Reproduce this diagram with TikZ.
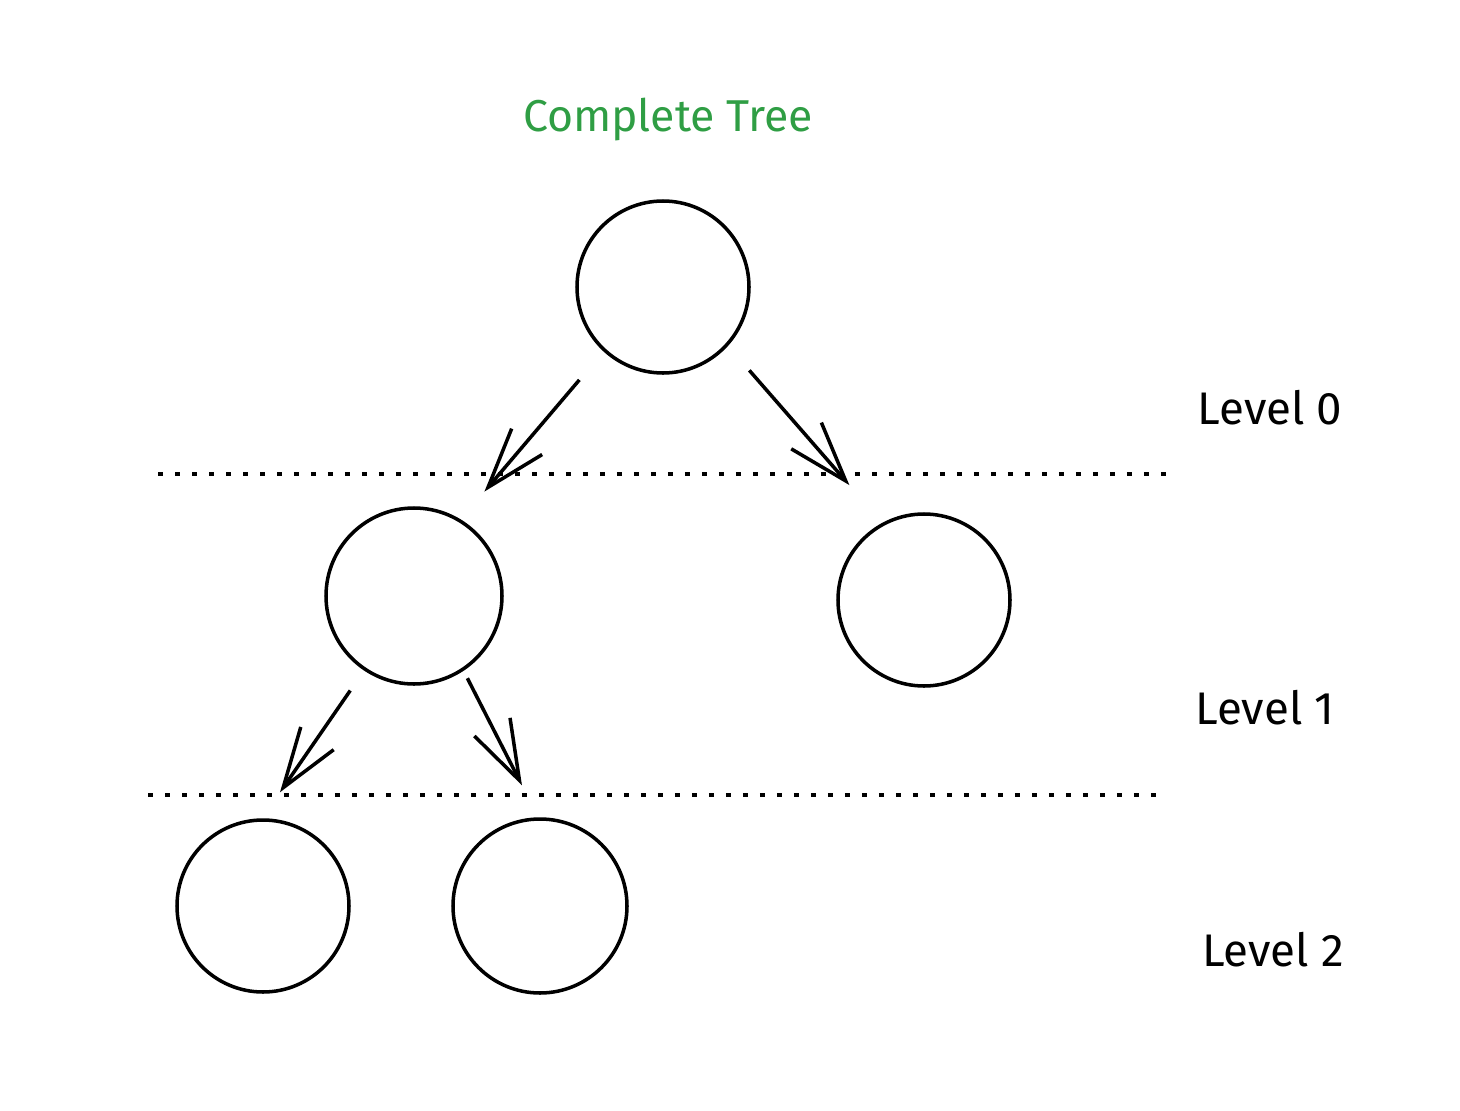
\documentclass[tikz,border=0pt]{standalone}
\usepackage{fontspec}
\setmainfont{Fira Sans}
\usetikzlibrary{calc,arrows.meta}
\definecolor{sketchgreen}{HTML}{2F9E44}
\tikzset{
	treenode/.style={circle, draw, line width=1pt, minimum size=1.72cm, inner sep=0pt},
	treearrow/.style={line width=1pt, -{Straight Barb[length=6mm, width=4mm, line width=1pt]}},
	levelline/.style={line width=1pt, dash pattern=on 0.05cm off 0.12cm},
	levellabel/.style={font=\fontsize{13}{15}\selectfont},
}

\begin{document}
\begin{tikzpicture}
		%%%%% START %%%%%
		
		\useasboundingbox (0, 0) rectangle (14.6, 11.1);
		
		\node[font=\fontsize{12.7}{15}\selectfont, text=sketchgreen] (title) at (6.68, 9.90) {Complete Tree};
		
		\node[treenode] (root) at (6.63, 8.23) {};
		\node[treenode, minimum size=1.76cm] (left) at (4.14, 5.14) {};
		\node[treenode] (right) at (9.24, 5.10) {};
		\node[treenode] (leftleft) at (2.63, 2.04) {};
		\node[treenode, minimum size=1.74cm] (leftright) at (5.40, 2.04) {};
		
		\draw[treearrow] ($(root)+(228:1.25)$) -- ($(left)+(56:1.26)$);
		\draw[treearrow] ($(root)+(316:1.20)$) -- ($(right)+(123:1.37)$);
		\draw[treearrow] ($(left)+(236:1.14)$) -- ($(leftleft)+(81.5:1.15)$);
		\draw[treearrow] ($(left)+(303:0.98)$) -- ($(leftright)+(98.5:1.22)$);
		
		\draw[levelline] (1.58, 6.36) -- (11.70, 6.36);
		\draw[levelline] (1.48, 3.15) -- (11.60, 3.15);
		
		\node[levellabel] (level0) at (12.70, 7.02) {Level 0};
		\node[levellabel] (level1) at (12.65, 4.02) {Level 1};
		\node[levellabel] (level2) at (12.73, 1.60) {Level 2};
		
		%%%%% END %%%%%
	\end{tikzpicture}
\end{document}
